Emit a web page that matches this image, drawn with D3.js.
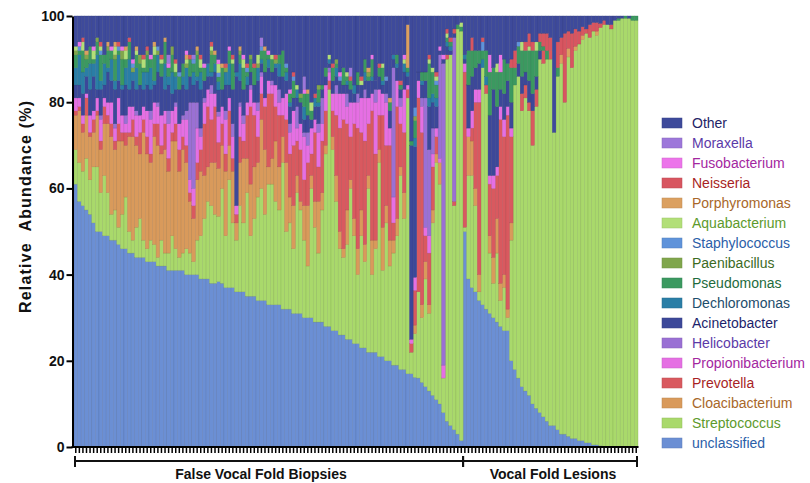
<!DOCTYPE html>
<html>
<head>
<meta charset="utf-8">
<script src="https://cdn.jsdelivr.net/npm/d3@7"></script>
<style>
    body { margin: 0; background: #fff; }
    svg { display: block; font-family: "Liberation Sans", Arial, Helvetica, sans-serif; }
</style>
</head>
<body>
<svg width="810" height="483"></svg>
<script>
// relative abundance per sample (%), 109 false vocal fold biopsies then 49 vocal fold lesions
const unclassified = [
    61,57,56,55,54,52,50,50,49,49, 48,48,47,46,46,45,45,44,44,44, 43,43,43,42,42,42,41,41,41,41,
    41,40,40,40,40,39,39,39,38,38, 38,38,37,37,37,36,36,36,35,35, 35,34,34,34,33,33,33,33,32,32,
    32,31,31,31,30,30,30,29,29,29, 28,28,27,27,26,26,25,25,24,24, 23,23,22,22,22,21,21,20,20,19,
    19,18,18,17,17,16,16,15,14,13, 12,11,10,8,6,5,4,3,1.5,
    50,39,37,36,34,33,32,31,30,29, 28,27,27,20,18,16,14,13,12,10, 9,8,7,6,5,5,4,3,3,2.5,
    2,2,1.5,1.5,1,1,0.5,0.5,0.3,0, 0,0,0,0,0,0,0,0,0
];
const streptococcus = [
    8,9,8,12,8,13,15,9,14,10, 6,7,4,8,12,5,3,7,9,4, 3,5,4,2,6,3,4,8,5,3,
    4,6,5,3,8,10,14,18,18,16, 15,22,12,25,15,12,20,16,24,14, 18,24,26,20,28,28,24,22,34,18,
    20,15,28,24,18,12,30,22,16,26, 40,55,42,30,20,18,22,35,25,16, 26,20,38,18,24,45,20,32,22,26,
    30,45,35,64,5,10,20,15,25,18, 40,55,51,8,84,86,52,94,95,
    1,24,26,20,2,55,50,14,8,16, 6,10,3,28,66,70,64,68,66,60, 70,82,82,84,85,68,82,86,77,88,
    86,90,92,93,95,94,96,95,97,98, 98,97,99,99,99.5,99.5,99.5,99,99
];
const cloacibacterium = [
    8,12,9,10,10,8,12,10,12,16, 18,14,20,17,12,22,24,19,15,25, 22,18,25,26,20,24,19,22,25,20,
    24,20,12,10,14,15,10,8,10,12, 11,10,15,8,12,4,10,15,8,12, 12,8,16,15,4,6,14,10,6,16,
    6,10,4,2,8,14,3,6,12,4, 2,0,3,6,4,2,8,2,4,6, 6,4,3,8,2,3,10,4,6,3,
    4,2,6,0,0,2,0,3,4,2, 3,2,5,0,0,0,0,0,0,
    0,9,8,4,4,0,0,4,6,8, 4,3,2,4,0,0,0,0,0,0, 0,0,0,0,0,0,0,0,0,0,
    0,0,0,0,0,0,0,0,0,0, 0,0,0,0,0,0,0,0,0
];
const prevotella = [
    1,1,2,4,1,3,1,2,4,2, 3,2,4,2,3,1,4,2,5,3, 4,2,3,5,2,6,3,2,4,5,
    3,4,2,3,4,5,12,14,10,13, 6,5,4,8,3,2,6,4,10,18, 12,6,6,10,17,15,8,12,5,10,
    10,14,8,12,6,10,5,16,8,12, 8,2,6,14,24,30,20,10,22,28, 18,24,12,30,20,8,26,14,22,4,
    26,10,14,2,2,8,45,40,6,12, 10,4,0,0,1,0,1,0,0,
    36,0,3,20,40,0,2,12,16,10, 38,32,45,20,0,0,4,3,2,8, 4,0,3,0,2,0,0,0,0,0,
    0,0,0,0,0,0,0,0,0,0, 0,0,0,0,0,0,0,0,0
];
const propionibacterium = [
    3,2,2,1,4,2,3,5,2,3, 5,3,6,4,2,6,3,5,4,3, 6,8,5,4,7,3,8,5,4,6,
    4,6,3,4,8,3,5,4,6,3, 6,4,8,3,5,2,7,4,3,4, 3,6,4,2,3,2,5,3,4,6,
    5,8,3,6,10,4,6,3,8,4, 6,2,4,5,8,6,4,8,5,6, 8,10,6,4,12,6,5,10,4,6,
    6,4,10,1,1,3,4,6,2,4, 3,2,1,3,0,0,0,0,0,
    2,2,4,3,3,0,0,2,3,2, 3,4,2,2,0,0,0,0,0,0, 0,0,0,0,0,0,0,0,0,0,
    0,0,0,0,0,0,0,0,0,0, 0,0,0,0,0,0,0,0,0
];
const helicobacter = [
    0,0,0,0,0,0,0,1,0,0, 0,1,0,0,2,0,0,1,0,0, 0,2,0,1,0,0,3,0,1,0,
    1,2,18,20,6,2,1,0,2,0, 1,0,2,0,3,0,1,2,0,1, 0,2,1,0,0,1,0,3,0,0,
    2,0,5,0,1,3,0,0,2,6, 0,1,0,2,0,0,3,0,0,2, 0,2,0,0,3,0,0,2,0,30,
    0,2,0,0,0,0,0,2,30,20, 6,0,24,70,0,0,38,0,0,
    0,0,0,0,0,0,0,0,0,0, 0,0,0,0,0,0,0,0,0,0, 0,0,0,0,0,0,0,0,0,0,
    0,0,0,0,0,0,0,0,0,0, 0,0,0,0,0,0,0,0,0
];
const acinetobacter = [
    3,3,5,4,6,8,2,6,3,7, 5,8,4,6,7,4,6,5,7,4, 6,5,4,7,9,5,6,4,3,8,
    7,5,6,4,5,9,4,3,2,5, 5,4,6,3,8,30,5,6,4,3, 4,5,2,6,3,2,4,3,5,3,
    4,3,2,5,3,4,2,3,4,2, 2,1,3,2,3,2,2,3,2,2, 3,2,4,3,2,3,2,3,4,2,
    3,2,4,2,45,30,2,3,4,10, 6,5,1,1,2,1,1,0,0,
    1,10,8,5,6,0,0,14,20,14, 4,6,6,6,0,3,4,3,5,4, 3,2,0,0,0,0,0,0,0,0,
    0,0,0,0,0,0,0,0,0,0, 0,0,0,0,0,0,0,0,0
];
const dechloromonas = [
    4,7,5,2,6,3,8,2,5,1, 5,2,6,1,4,7,2,5,0,4, 3,5,1,4,0,6,2,5,3,0,
    2,5,0,3,1,4,0,3,1,2, 2,0,3,5,0,1,4,0,2,0, 0,3,1,0,2,0,1,3,0,2,
    1,0,2,0,3,0,0,2,1,0, 0,1,0,2,0,0,1,0,2,0, 0,2,0,1,0,0,1,0,0,1,
    1,0,2,1,0,2,0,1,0,2, 2,2,0,0,1,1,0,0,0,
    1,0,0,0,0,2,2,0,0,0, 0,0,0,0,0,0,0,0,0,0, 0,0,0,0,0,0,0,0,0,0,
    0,0,0,0,0,0,0,0,0,0, 0,0,0,0,0,0,0,0,0
];
const pseudomonas = [
    3,1,5,2,4,1,3,6,2,4, 2,5,1,6,2,4,0,3,5,1, 4,2,6,0,3,5,2,4,1,3,
    3,0,4,2,5,1,3,0,4,2, 1,5,0,3,6,0,2,5,1,3, 4,0,2,5,1,3,0,2,6,1,
    2,4,0,1,3,5,2,0,3,1, 2,0,3,1,0,4,1,2,0,3, 0,3,1,4,0,2,3,0,2,0,
    2,1,0,1,1,4,0,2,2,8, 5,3,0,0,1,1,0,1,1,
    0,8,6,4,3,2,6,10,5,8, 4,8,4,8,4,4,6,5,7,10, 6,2,1,2,0,0,2,0,0,0,
    0,0,0,0,0,0,0,0,0,0, 0,0,0,0.5,0,0.5,0,1,1
];
const paenibacillus = [
    1,0,0,1,0,0,1,0,0,1, 0,1,0,2,0,0,1,0,2,0, 1,0,0,1,0,0,0,2,0,0,
    0,1,0,0,1,0,0,0,1,0, 0,0,1,0,0,0,1,0,0,1, 0,1,0,0,0,0,1,0,0,0,
    0,0,0,1,0,0,0,0,1,0, 0,0,0,1,0,0,0,0,0,0, 0,0,1,0,0,0,0,0,0,0,
    0,0,0,0,0,1,0,0,0,0, 0,0,0,0,0,0,0,0,0,
    0,0,0,0,0,0,0,0,0,0, 0,0,0,0,0,0,0,0,0,0, 0,0,0,0,0,0,0,0,0,0,
    0,0,0,0,0,0,0,0,0,0, 0,0,0,0,0,0,0,0,0
];
const staphylococcus = [
    0,1,0,0,0,0,0,1,0,0, 0,0,1,0,0,0,1,0,0,0, 0,0,0,1,0,0,0,0,0,1,
    0,0,0,1,0,0,0,0,0,0, 1,0,0,0,0,0,0,0,1,0, 0,0,1,0,0,0,0,0,0,1,
    0,1,0,0,0,0,0,0,0,0, 0,0,0,0,1,0,0,0,0,0, 0,0,0,0,0,0,0,1,0,0,
    0,0,0,0,0,2,0,0,0,0, 0,1,0,0,0,0,0,0,0,
    0,0,0,0,0,2,0,0,0,0, 0,0,0,0,0,1,0,0,0,0, 0,0,0,0,0,0,0,0,0,0,
    0,0,0,0,0,0,0,0,0,0, 0,0,0,0,0,0,0,0,0
];
const aquabacterium = [
    1,0,2,0,0,2,0,1,0,0, 0,2,0,0,2,0,0,1,0,2, 0,0,2,0,1,0,0,0,2,0,
    0,1,0,0,0,2,0,0,1,0, 2,0,0,0,1,0,0,2,0,0, 0,2,0,0,0,1,0,0,0,0,
    0,0,1,0,0,0,2,0,0,0, 0,1,0,0,0,0,1,0,0,0, 1,0,0,0,0,0,1,0,0,0,
    0,0,1,0,0,0,0,0,0,1, 1,1,0,0,1,0,0,0,1,
    0,0,0,0,0,0,0,0,0,2, 0,0,0,0,0,0,2,0,1,0, 2,0,0,0,0,0,0,0,0,0,
    0,0,0,0,0,0,0,0,0,0, 0,0,0,0,0,0,0,0,0
];
const porphyromonas = [
    0,0,0,1,0,0,0,0,0,1, 0,1,0,0,1,0,0,1,0,0, 0,0,1,0,0,1,0,0,0,0,
    0,1,0,0,1,0,0,0,0,1, 0,1,0,0,0,0,1,0,0,0, 0,0,0,1,0,0,0,0,0,0,
    0,0,0,0,0,1,0,0,0,0, 0,0,0,0,0,0,0,0,0,0, 0,0,1,0,0,0,0,0,1,0,
    0,0,0,10,0,0,0,0,0,0, 0,0,0,0,0,0,0,0,0,
    0,0,0,0,0,0,0,0,0,0, 0,0,0,0,0,0,0,0,0,0, 0,0,0,0,0,0,0,2,0,2,
    0,1,0,1,0,0,0,1,0,0, 0,0,0,0,0,0,0,0,0
];
const neisseria = [
    0,0,1,0,0,0,0,1,0,0, 0,0,1,0,0,1,0,0,0,1, 1,0,0,0,1,0,0,0,1,0,
    0,0,1,0,0,1,0,0,1,0, 0,0,1,0,1,0,0,0,1,0, 1,0,0,0,0,0,1,0,0,0,
    0,1,0,0,0,0,0,1,0,0, 0,0,1,0,0,0,0,1,0,0, 1,0,0,0,0,1,0,0,0,0,
    0,1,0,0,0,0,0,0,0,1, 0,1,0,0,1,1,1,0,0,
    0,0,3,0,0,1,0,0,0,0, 0,0,0,2,4,0,0,2,3,2, 0,2,3,4,3,0,6,4,16,4,
    8,4,3,2,1,3,2,2,1,1, 0,1,0,0,0,0,0,0,0
];
const fusobacterium = [
    0,1,0,0,0,1,0,0,0,0, 1,0,0,1,0,0,1,0,0,0, 0,1,0,0,0,0,1,0,0,0,
    0,1,0,0,0,0,1,0,0,0, 1,0,0,1,0,0,0,1,0,0, 0,0,0,0,1,0,0,0,0,0,
    1,0,0,0,1,0,0,0,0,0, 0,0,0,0,1,0,0,0,0,0, 0,0,0,1,0,0,0,0,0,0,
    0,0,1,0,0,0,0,0,0,0, 0,0,1,1,0,0,0,0,0,
    0,0,0,0,0,0,0,4,0,0, 4,0,0,0,0,0,0,0,0,0, 0,0,0,0,0,0,0,0,0,0,
    0,0,0,0,0,0,0,0,0,0, 0,0,0,0,0,0,0,0,0
];
const moraxella = [
    0,0,0,0,0,0,0,0,0,0, 0,0,0,0,0,0,0,0,0,0, 0,0,0,0,0,0,2,0,0,0,
    0,0,0,1,0,0,0,0,0,0, 0,0,0,0,0,0,0,0,0,0, 0,0,2,0,0,0,0,0,0,0,
    0,0,0,0,3,0,0,0,0,0, 0,0,0,0,0,0,0,2,0,0, 0,0,0,0,0,0,0,0,0,0,
    0,0,0,0,0,0,0,0,0,0, 0,0,0,0,0,0,0,0,0,
    0,0,0,0,0,0,0,0,0,0, 0,0,0,0,0,0,0,0,0,0, 0,0,0,0,0,0,0,0,0,0,
    0,0,0,0,0,0,0,0,0,0, 0,0,0,0,0,0,0,0,0
];
const other = [
    7,6,5,8,7,7,5,6,9,6, 7,6,6,7,7,5,10,7,9,9, 7,9,6,7,9,5,9,7,10,13,
    11,8,9,9,7,9,11,11,6,8, 10,11,11,7,9,13,7,9,11,9, 11,9,5,7,8,9,9,9,8,11,
    17,13,16,18,14,17,20,18,16,16, 12,9,11,10,13,12,13,12,16,13, 14,10,12,9,15,11,11,14,19,9,
    9,15,9,2,29,21,13,13,13,9, 12,13,7,9,3,5,3,2,1.5,
    9,8,5,8,8,5,8,9,12,11, 9,10,11,10,8,6,6,6,4,6, 6,4,4,4,5,27,6,5,4,3.5,
    4,3,3.5,2.5,3,2,1.5,1.5,1.7,1, 2,2,1,0.5,0.5,0,0.5,0,0
];

const groupNames = ["False Vocal Fold Biopsies", "Vocal Fold Lesions"];
const groupSizes = [109, 49];
const groupLabelX = [261, 553];
const yTicks = [0, 20, 40, 60, 80, 100];

// stack order, bottom to top
const taxa = ["unclassified", "Streptococcus", "Cloacibacterium", "Prevotella", "Propionibacterium",
    "Helicobacter", "Acinetobacter", "Dechloromonas", "Pseudomonas", "Paenibacillus", "Staphylococcus",
    "Aquabacterium", "Porphyromonas", "Neisseria", "Fusobacterium", "Moraxella", "Other"];
const taxaValues = [unclassified, streptococcus, cloacibacterium, prevotella, propionibacterium,
    helicobacter, acinetobacter, dechloromonas, pseudomonas, paenibacillus, staphylococcus,
    aquabacterium, porphyromonas, neisseria, fusobacterium, moraxella, other];
const fillColors = ["#6b8fd4", "#a9d96b", "#d99a5b", "#d9595f", "#e56fe3",
    "#9a70d4", "#3c4899", "#2a7ea6", "#3b9960", "#80a64c", "#5f93da",
    "#b2df78", "#dba060", "#d85560", "#ec74ea", "#9d77da", "#3e4a9b"];
const textColors = ["#2b5ea8", "#5d9a2c", "#a8672a", "#a81f25", "#a3279f",
    "#5b3aa8", "#1c1f6b", "#1d4d6b", "#1e6b3c", "#3c6b1f", "#2b5ea8",
    "#5d9a2c", "#a8672a", "#a81f25", "#a3279f", "#5b3aa8", "#1f2466"];

const svg = d3.select("svg");
const n = unclassified.length;

const rows = d3.range(n).map(i => {
    const r = { id: i };
    taxa.forEach((t, k) => { r[t] = taxaValues[k][i]; });
    return r;
});

// relative abundance -> each bar scaled to 100%
const layers = d3.stack().keys(taxa).offset(d3.stackOffsetExpand)(rows);

const x = d3.scaleBand()
    .domain(d3.range(n))
    .range([74, 638])
    .paddingInner(0)
    .paddingOuter(0);

const y = d3.scaleLinear()
    .domain([0, 100])
    .range([447, 16]);

const color = d3.scaleOrdinal().domain(taxa).range(fillColors);

// Bars
svg.append("g")
    .selectAll("g")
    .data(layers)
    .join("g")
    .attr("fill", d => color(d.key))
    .attr("stroke", d => d3.color(color(d.key)).darker(0.6))
    .attr("stroke-width", 0.35)
    .selectAll("rect")
    .data(d => d.filter(s => s[1] - s[0] > 0))
    .join("rect")
    .attr("x", d => x(d.data.id))
    .attr("width", x.bandwidth())
    .attr("y", d => y(d[1] * 100))
    .attr("height", d => y(d[0] * 100) - y(d[1] * 100));

// Y axis
const yAxis = svg.append("g")
    .attr("transform", "translate(72.5,0)")
    .call(d3.axisLeft(y).tickValues(yTicks).tickSize(6).tickSizeOuter(0).tickPadding(2));
yAxis.select(".domain").attr("stroke-width", 2);
yAxis.selectAll(".tick line").attr("stroke-width", 2);
yAxis.selectAll(".tick text")
    .style("font-size", "14px")
    .style("font-weight", "bold")
    .attr("fill", "#111");

// X axis: a tick under every sample
const xAxis = svg.append("g")
    .attr("transform", "translate(0,447)")
    .call(d3.axisBottom(x).tickFormat("").tickSize(6).tickSizeOuter(0));
xAxis.select(".domain").remove();
xAxis.selectAll(".tick line").attr("stroke-width", 1.5);
svg.append("line")
    .attr("x1", 71.5).attr("x2", 638.5)
    .attr("y1", 447).attr("y2", 447)
    .attr("stroke", "#000").attr("stroke-width", 2);

svg.append("text")
    .attr("transform", "translate(25,207) rotate(-90)")
    .attr("text-anchor", "middle")
    .attr("dominant-baseline", "central")
    .attr("textLength", 212)
    .attr("lengthAdjust", "spacing")
    .style("font-size", "16px")
    .style("font-weight", "bold")
    .style("white-space", "pre")
    .attr("fill", "#111")
    .text("Relative  Abundance (%)");

// Group brackets
let start = 0;
const bracket = svg.append("g").attr("stroke", "#111").attr("stroke-width", 2);
groupSizes.forEach((size, g) => {
    const x0 = x(start) + (g === 0 ? 1 : 0);
    const x1 = g === groupSizes.length - 1 ? x(start + size - 1) + x.bandwidth() - 1 : x(start + size);
    bracket.append("line").attr("x1", x0).attr("x2", x1).attr("y1", 461).attr("y2", 461);
    bracket.append("line").attr("x1", x0).attr("x2", x0).attr("y1", 456).attr("y2", 467);
    bracket.append("line").attr("x1", x1).attr("x2", x1).attr("y1", 456).attr("y2", 467);
    svg.append("text")
        .attr("x", groupLabelX[g])
        .attr("y", 479)
        .attr("text-anchor", "middle")
        .style("font-size", "14px")
        .style("font-weight", "bold")
        .attr("fill", "#111")
        .text(groupNames[g]);
    start += size;
});

// Legend, top of stack first
const legendItems = taxa.map((t, k) => ({ name: t, fill: fillColors[k], text: textColors[k] })).reverse();
const legend = svg.append("g")
    .selectAll("g")
    .data(legendItems)
    .join("g")
    .attr("transform", (d, i) => `translate(662,${123 + i * 20})`);
legend.append("rect")
    .attr("x", 0).attr("y", -5)
    .attr("width", 20).attr("height", 10)
    .attr("fill", d => d.fill)
    .attr("stroke", d => d3.color(d.fill).darker(0.4))
    .attr("stroke-width", 0.5);
legend.append("text")
    .attr("x", 30)
    .attr("y", 0)
    .attr("dominant-baseline", "central")
    .style("font-size", "14px")
    .attr("fill", d => d.text)
    .text(d => d.name);
</script>
</body>
</html>
